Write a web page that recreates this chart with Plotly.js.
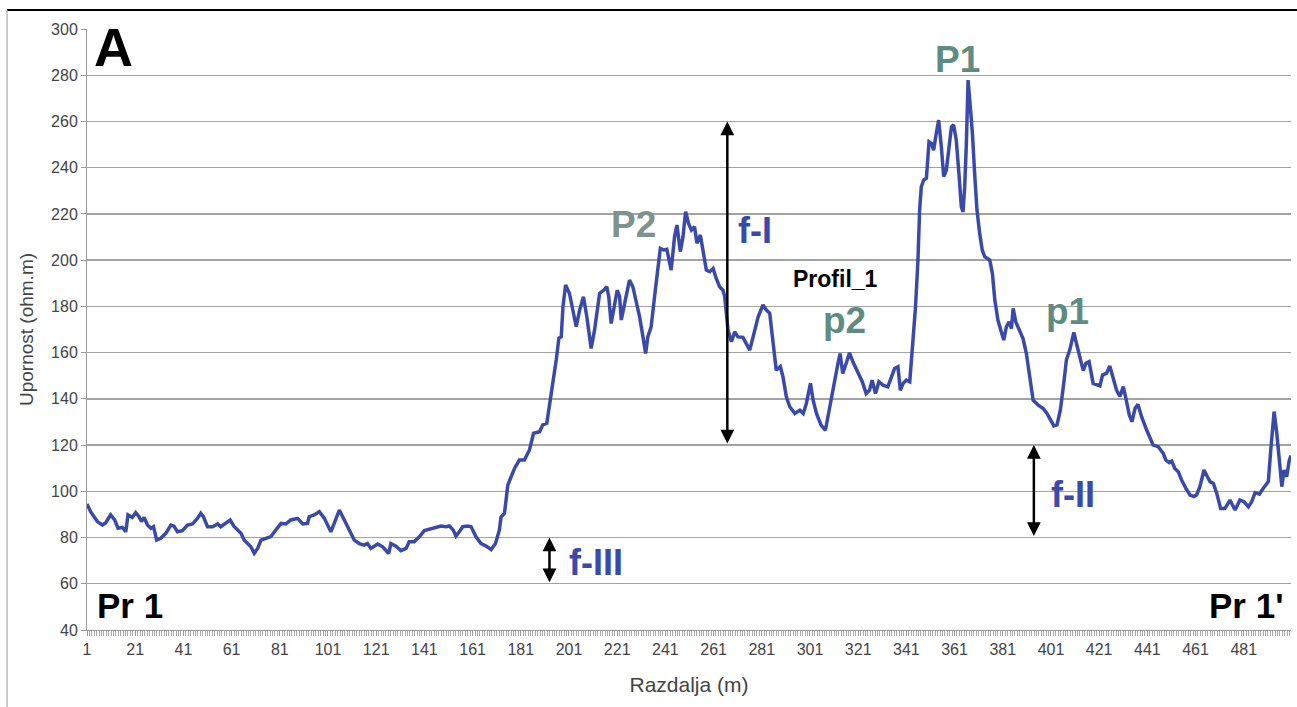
<!DOCTYPE html>
<html>
<head>
<meta charset="utf-8">
<script src="https://cdn.plot.ly/plotly-3.0.1.min.js"></script>
<style>html,body{margin:0;padding:0;background:#fff;}#chart{width:1297px;height:707px;}</style>
</head>
<body>
<div id="chart"></div>
<script>
// Distance along profile (m) and apparent resistivity (ohm.m)
const distance = [
1,2.5,5.3,7.4,8.8,10.8,12.5,13.9,15.7,17.1,18,19.8,21.2,22.6,23.6,24.7,26.1,27.5,28.6,29.9,
31.6,33.7,35.8,37.1,38.5,40.6,42.7,44.8,46.8,48.2,49.3,51,53.1,55.2,56.5,58.6,60.4,62.1,63.5,64.9,
66.2,67.9,69,70.4,71.8,73.2,75.2,77.3,79.4,81.5,83.5,85.6,88.4,90.5,92.5,93.2,95.3,97.4,99.5,102.2,
105.7,107.7,109.8,111.9,114,116,117.4,118.8,121.6,123.7,126.2,127.1,129.2,131.3,133.4,134.7,136.8,138.9,141,143.1,
145.8,147.9,150,151.4,153,154.1,155.5,156.9,159,160.4,162.4,164.5,166.6,168.7,170.5,172.1,172.8,174.2,174.9,175.6,
177,178.4,180.4,182.5,184.6,186.3,188.8,190.1,191.8,192.9,194.3,195.7,196.8,197.8,198.5,199.6,
201.2,202.6,204,205.4,207,208.4,210.2,211.6,213.7,215.7,216.7,217.5,218.5,219.9,221,222,222.7,224.1,226.1,227.5,
228.9,230.3,231.7,232.8,233.7,235.1,236.5,237.9,238.9,240.3,241.6,243.4,244.8,245.8,247.2,248.3,249.4,250.6,251.8,253.1,
254.1,255.5,256.9,258,259.4,260.8,262.1,263.5,264.9,265.6,267,268.4,269.8,271.1,273.2,274.6,276,277.4,279.5,281.5,
282.9,284.3,285.9,287,288.7,289.8,291.2,292.6,294.7,296.8,298.2,299.5,301.2,302.3,303.7,
305.6,307.4,309.1,310.8,312.6,313.5,314.6,316,317.4,318.8,320.9,322.7,324.3,325.7,326.8,328.2,329.6,331.3,333.3,334.7,
336.1,337.5,338.5,339.6,341,342.4,343.7,344.8,345.8,346.5,347.2,348.2,349.3,350,350.4,351.4,352.3,353.4,354.4,355.5,
356.5,357.6,358.7,359.7,360.6,361.7,362.9,363.8,364.5,365.2,365.9,366.6,367.3,368.4,369.4,370.3,371.4,372.5,373.5,375.6,
376.7,377.7,379,380.4,381.4,382.5,383.6,384.6,385.3,386.4,387.8,389.4,390.8,392.2,393.6,395.7,397.8,399.4,400.5,
402.2,403.5,404.9,406.3,407.4,408.8,410.5,411.9,413.2,414.4,415.5,416.8,418.5,419.9,421.3,422.4,424.1,425.4,426.8,428.2,
429.6,431,432.1,433.5,434.6,435.9,437.1,438.6,440.7,442,443.4,445.5,447.6,448.7,450.1,451.1,452.4,453.8,455.2,457,
458.7,460.3,461.4,462.8,464.5,465.9,467,468.4,469.8,471.4,473.2,475.3,477.4,479.4,481.1,482.9,484.3,485.7,487.5,489.1,
491.2,492.2,493,493.6,494.7,495.8,496.8,497.7,498.8,499.9,500.6
];
const resistivity = [
94.5,91.2,86.9,85.4,86.4,89.8,87.6,84,84.4,82.5,89.8,88.7,90.8,89,86.9,88.7,85.4,84,84.7,78.9,
79.7,81.8,85.4,84.9,82.5,83,85.4,85.9,88.3,90.5,89,84.7,84.7,85.9,84.7,86.1,87.6,84.7,83.3,81.8,
78.9,76.8,76,73.2,75.3,78.9,79.7,80.4,83.3,86.1,85.9,87.6,88.3,85.9,86.1,89,89.8,91.2,88.3,82.5,
91.9,87.5,83.2,78.9,77.4,76.7,77.4,75.3,77.2,76,73.1,77.4,76.3,74.3,75.3,78.2,78.2,80.3,83,83.5,
84.2,85,84.7,85,83.2,80.6,82.5,84.7,85,84.7,80.3,77.4,76.3,74.8,77.4,83.2,88.9,90.4,96.2,102.7,
106.3,109.9,113.5,113.5,117.9,125.1,125.8,128.7,129.4,136.6,145.3,156.8,166.2,166.9,179.9,189.3,
185.6,178.4,171.2,178.4,184.2,175.5,161.8,169.7,185.6,187.3,188.5,184.2,172.6,180.6,187,184.2,174.1,181.3,191.4,188.5,
182.7,175.5,166.8,159.6,166.8,171.2,184.2,195.7,205.1,204.4,204.7,195.7,210.1,215.2,203.7,210.1,221,215.9,213,214.5,
207.3,210.9,202.9,195.7,195,196.4,192.1,188.5,187,184.2,169.7,164.7,169,166.8,166.6,164,161.1,166.8,175.5,180.6,
178.4,177,162.5,152.4,153.9,149.5,140.9,136.6,133.7,135.1,133.7,138,146.7,139.4,133.7,
128.6,126.4,136.5,145.2,155.3,159.6,151,155.3,159.9,156,151.7,147.4,142.3,143.7,148.1,142.3,147.4,145.9,145.2,148.8,
153.1,153.9,143.7,146.6,148.1,147.4,164,179.8,200,221.7,231.8,234.7,235.4,243.3,251.2,250.5,247.6,254.9,260.6,249.1,
236.1,239,247.6,257.7,258.5,252,236.1,223.1,220.9,231.8,250.5,277.9,269.3,254.9,236.1,221.7,211.6,204.3,201.5,200,
194.2,182.7,174,168.3,165.4,171.2,173.3,170.4,179.1,173.3,169.7,166.1,159.6,149.5,139.4,137.3,135.8,133.6,131.5,
128.3,128.7,135.2,146.7,156.8,161.2,168.7,162.6,157.5,152.2,155.4,156.1,146.7,146,145.6,150.3,151.1,154.2,149.6,143.8,
141,145.3,140.2,133,130.1,135.9,137.6,132.3,126.5,122.9,120,119.3,116.4,113.5,112.4,113.1,109.9,108.5,104.9,101.3,
98.4,97.7,98.4,102,109.2,106.3,104.2,103.4,99.1,92.6,92.6,96.2,91.9,96.2,95.5,93.3,95.5,99.4,98.8,101.3,
104.2,117.9,128,134.5,125.1,112.1,102,109.2,106.3,113.5,115.5
];
const xTickValues = [1,21,41,61,81,101,121,141,161,181,201,221,241,261,281,301,321,341,361,381,401,421,441,461,481];
const yTickValues = [40,60,80,100,120,140,160,180,200,220,240,260,280,300];

// Labels placed on the chart
const peakLabels = [
  {text:'P1', x:362.3, y:286.6, color:'#5f8c82'},
  {text:'P2', x:227.7, y:215.6, color:'#7d9390'},
  {text:'p2', x:315.4, y:174.1, color:'#5f8c82'},
  {text:'p1', x:408,   y:177.6, color:'#5f8c82'}
];
const faultLabels = [
  {text:'f-I',   x:278,   y:213},
  {text:'f-II',  x:410,   y:98.8},
  {text:'f-III', x:212.4, y:69.4}
];
// Double arrows: x position, bottom value, top value
const faultArrows = [
  {x:266.7, y0:120, y1:260},
  {x:393.9, y0:80,  y1:120},
  {x:192.9, y0:60,  y1:80}
];

const FONT = 'Liberation Sans, Arial, sans-serif';
const lineBlue = '#3a4aab';

const annotations = [];
annotations.push({x:11.8, y:292.2, xref:'x', yref:'y', text:'A', showarrow:false,
  font:{family:FONT, size:54, color:'#000', weight:'bold'}});
annotations.push({x:18.9, y:50.4, xref:'x', yref:'y', text:'Pr 1', showarrow:false,
  font:{family:FONT, size:35, color:'#000', weight:'bold'}});
annotations.push({x:481.9, y:50.4, xref:'x', yref:'y', text:"Pr 1'", showarrow:false,
  font:{family:FONT, size:35, color:'#000', weight:'bold'}});
annotations.push({x:311.6, y:191.8, xref:'x', yref:'y', text:'Profil_1', showarrow:false,
  font:{family:FONT, size:23, color:'#000', weight:'bold'}});
peakLabels.forEach(p => annotations.push({x:p.x, y:p.y, xref:'x', yref:'y', text:p.text, showarrow:false,
  font:{family:FONT, size:37, color:p.color, weight:'bold'}}));
faultLabels.forEach(f => annotations.push({x:f.x, y:f.y, xref:'x', yref:'y', text:f.text, showarrow:false,
  font:{family:FONT, size:36, color:lineBlue, weight:'bold'}}));
faultArrows.forEach(a => annotations.push({x:a.x, y:a.y1, ax:a.x, ay:a.y0, xref:'x', yref:'y', axref:'x', ayref:'y',
  text:'', showarrow:true, arrowhead:2, startarrowhead:2, arrowside:'end+start', arrowsize:1.1, startarrowsize:1.1,
  arrowwidth:2.5, arrowcolor:'#000', standoff:0, startstandoff:0}));

const trace = {
  x: distance, y: resistivity, type:'scatter', mode:'lines',
  line:{color:lineBlue, width:3.5}, hoverinfo:'skip', showlegend:false
};

const layout = {
  width:1297, height:707,
  margin:{l:87, r:6, t:29, b:77},
  paper_bgcolor:'#fff', plot_bgcolor:'#fff',
  font:{family:FONT, color:'#444'},
  showlegend:false,
  xaxis:{
    range:[1,500.6], tickmode:'array', tickvals:xTickValues,
    ticks:'outside', ticklen:5, tickcolor:'#999', tickwidth:1,
    showgrid:false, zeroline:false, showline:true, linecolor:'#999', linewidth:1,
    tickfont:{family:FONT, size:16, color:'#444'},
    minor:{tickmode:'linear', tick0:1, dtick:1, ticks:'outside', ticklen:5, tickcolor:'#aaa', tickwidth:1, showgrid:false},
    title:{text:'Razdalja (m)', font:{family:FONT, size:21, color:'#444'}, standoff:20}
  },
  yaxis:{
    range:[40,300], tickmode:'array', tickvals:yTickValues,
    ticks:'outside', ticklen:5, tickcolor:'#999',
    showgrid:true, gridcolor:'#a3a3a3', gridwidth:1.3, zeroline:false,
    showline:true, linecolor:'#999', linewidth:1,
    tickfont:{family:FONT, size:16, color:'#444'},
    title:{text:'Upornost (ohm.m)', font:{family:FONT, size:19, color:'#444'}, standoff:12}
  },
  annotations: annotations,
  shapes:[
    {type:'line', xref:'paper', yref:'paper', x0:-0.0664, x1:1.006, y0:1.0316, y1:1.0316, line:{color:'#000', width:2}},
    {type:'line', xref:'paper', yref:'paper', x0:-0.0664, x1:-0.0664, y0:1.0316, y1:-0.13, line:{color:'#999', width:1}}
  ]
};

Plotly.newPlot('chart', [trace], layout, {displayModeBar:false, staticPlot:true});
</script>
</body>
</html>
